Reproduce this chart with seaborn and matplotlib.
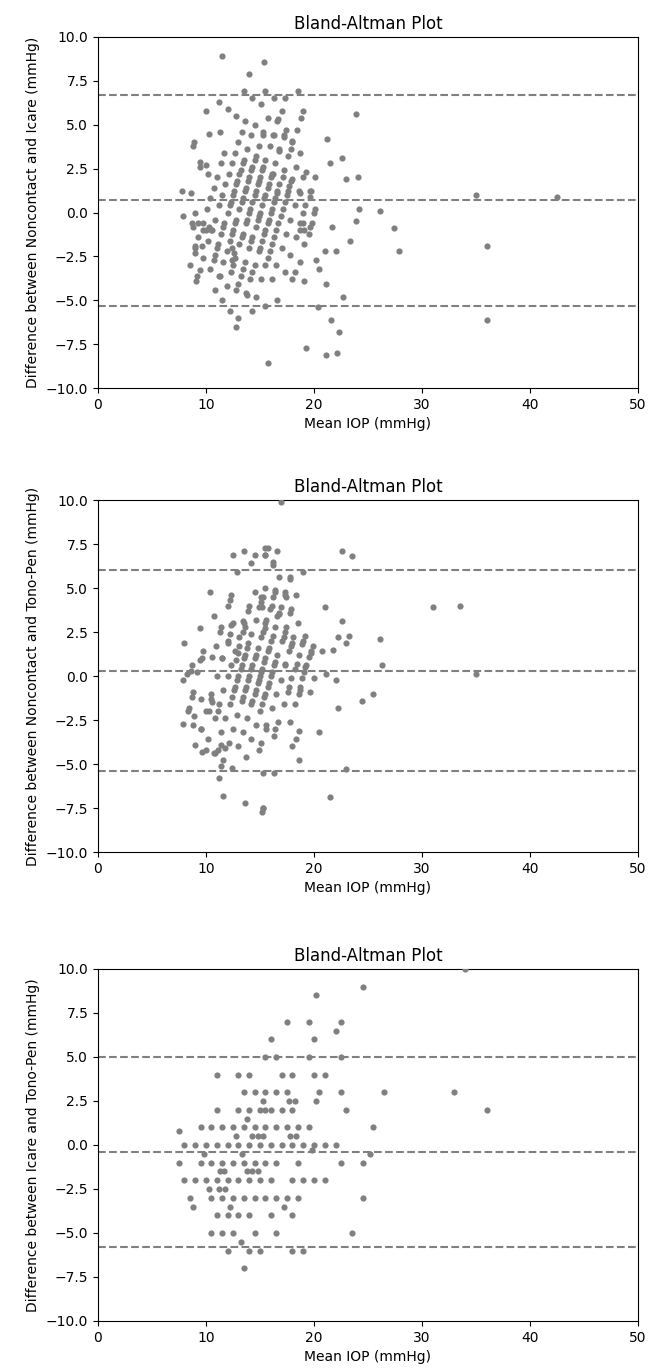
import matplotlib
matplotlib.use("Agg")
import matplotlib.pyplot as plt
import seaborn as sns
import numpy as np
import pandas as pd

# ---------------- Panel 1: Noncontact vs Icare ----------------
mean1 = [
    # observed, left part
    7.8, 8.6, 7.9, 9.0, 8.8, 8.9, 9.4, 9.4, 10.0, 10.2,
    8.7, 8.8, 9.3, 9.7, 10.0, 10.6, 10.3, 9.0, 9.0, 9.6,
    9.4, 9.1, 11.3, 10.7, 10.3, 11.3, 10.0, 11.2, 12.0, 12.8,
    11.5, 14.0, 15.4, 13.5, 14.3, 15.1, 15.5, 12.8, 15.7, 14.3,
    15.5, 13.8, 13.0, 12.4, 12.6, 12.4,
    # observed, right part
    16.3, 17.3, 18.5, 19.0, 18.8, 17.0, 16.7, 23.9, 17.4, 18.4,
    15.3, 16.3, 17.2, 18.0, 21.2, 16.8, 17.9, 21.5, 22.6, 19.3,
    20.1, 23.0, 24.1, 16.2, 17.1, 18.0, 18.7, 19.7, 19.6, 16.6,
    17.6, 17.7, 24.2, 26.1, 23.9, 21.7, 23.3, 19.0, 20.0, 19.0,
    19.8, 18.7, 19.1, 19.5, 21.0, 22.0, 20.2, 20.5, 21.1, 18.7,
    19.1, 18.0, 18.2, 22.7, 20.4, 21.6, 22.3, 19.3, 21.1, 22.1,
    16.6, 27.4, 27.9, 35.0, 36.0, 36.0, 42.5,
    # dense diagonal streaks
    8.5, 9.0, 9.3, 9.7, 10.1, 10.4, 10.7, 11.0, 11.4, 11.7,
    9.2, 9.7, 10.2, 10.5, 10.8, 11.2, 11.5, 11.8, 12.1, 12.4, 12.7, 13.0, 13.3, 13.6,
    10.4, 10.8, 11.1, 11.4, 11.7, 12.0, 12.3, 12.6, 12.9, 13.2, 13.5, 13.8, 14.2, 14.5,
    10.8, 11.2, 11.6, 11.9, 12.2, 12.5, 12.8, 13.1, 13.4, 13.7, 14.0, 14.3, 14.6, 14.9, 15.3, 15.7,
    11.5, 11.9, 12.3, 12.7, 13.1, 13.4, 13.7, 14.0, 14.3, 14.6, 14.9, 15.2, 15.5, 15.9, 16.2, 16.6,
    12.2, 12.8, 13.2, 13.6, 14.0, 14.3, 14.6, 14.9, 15.2, 15.5, 15.8, 16.1, 16.4, 16.8, 17.2,
    13.0, 13.7, 14.1, 14.5, 14.9, 15.2, 15.5, 15.8, 16.1, 16.4, 16.8, 17.2, 17.6, 18.0,
    14.6, 15.1, 15.5, 15.9, 16.3, 16.7, 17.1, 17.5, 17.9, 18.3, 18.7,
    16.1, 16.5, 17.0, 17.4, 17.8, 18.2, 18.6, 19.0,
    17.3, 17.8, 18.3, 18.7, 19.2, 19.6,
    19.1, 19.6, 20.1,
    # extra points filling the central streaks
    11.0, 11.6, 12.2, 12.5, 12.8, 13.1, 13.4,
    12.4, 12.7, 13.3, 13.6, 13.9, 14.2, 14.5,
    12.5, 13.3, 13.8, 14.1, 14.5, 14.8, 15.0, 15.3,
    13.4, 14.2, 14.8, 15.0, 15.4, 15.7, 16.0,
    14.3, 15.0, 15.4, 15.7, 16.0, 16.3, 16.6,
    15.7, 16.1, 16.5, 16.9, 17.3,
]
diff1 = [
    1.2, 1.1, -0.2, 0.0, 3.8, 4.0, 2.9, 2.6, 2.7, 2.2,
    -0.6, -0.8, -0.6, -1.0, -1.0, -1.0, -0.8, -1.9, -2.3, -1.9,
    -3.3, -3.9, -3.6, -2.7, 4.5, 4.6, 5.8, 6.3, 5.9, 5.5,
    8.9, 7.9, 8.6, 6.9, 6.5, 6.2, 6.9, -6.5, -8.6, -5.6,
    -5.3, -4.7, -4.1, -2.7, -2.3, -2.0,
    6.5, 6.5, 6.9, 5.8, 5.4, 5.8, 5.3, 5.6, 4.7, 4.7,
    4.4, 4.4, 4.3, 4.1, 4.2, 3.5, 3.6, 2.8, 3.1, 2.3,
    2.0, 1.9, 2.0, 2.2, 2.0, 1.9, 1.1, 1.2, 0.9, 1.1,
    1.2, 1.5, 0.2, 0.1, -0.5, -0.8, -1.6, 0.0, 0.0, -0.6,
    -0.6, -1.0, -1.0, -1.2, -2.2, -2.2, -2.7, -3.2, -4.1, -2.8,
    -3.9, -3.8, -3.4, -4.8, -5.4, -6.1, -6.8, -7.7, -8.1, -8.0,
    -5.0, -0.9, -2.2, 1.0, -1.9, -6.1, 0.9,
    -3.0, -2.0, -1.4, -0.6, 0.2, 0.8, 1.4, 2.0, 2.8, 3.4,
    -3.6, -2.6, -1.6, -1.0, -0.4, 0.4, 1.0, 1.6, 2.2, 2.8, 3.4, 4.0, 4.6, 5.2,
    -3.2, -2.4, -1.8, -1.2, -0.6, 0.0, 0.6, 1.2, 1.8, 2.4, 3.0, 3.6, 4.4, 5.0,
    -4.4, -3.6, -2.8, -2.2, -1.6, -1.0, -0.4, 0.2, 0.8, 1.4, 2.0, 2.6, 3.2, 3.8, 4.6, 5.4,
    -5.0, -4.2, -3.4, -2.6, -1.8, -1.2, -0.6, 0.0, 0.6, 1.2, 1.8, 2.4, 3.0, 3.8, 4.4, 5.2,
    -5.6, -4.4, -3.6, -2.8, -2.0, -1.4, -0.8, -0.2, 0.4, 1.0, 1.6, 2.2, 2.8, 3.6, 4.4,
    -6.0, -4.6, -3.8, -3.0, -2.2, -1.6, -1.0, -0.4, 0.2, 0.8, 1.6, 2.4, 3.2, 4.0,
    -4.8, -3.8, -3.0, -2.2, -1.4, -0.6, 0.2, 1.0, 1.8, 2.6, 3.4,
    -3.8, -3.0, -2.0, -1.2, -0.4, 0.4, 1.2, 2.0,
    -3.4, -2.4, -1.4, -0.6, 0.4, 1.2,
    -1.8, -0.8, 0.2,
    -2.0, -0.8, 0.4, 1.0, 1.6, 2.2, 2.8,
    -1.2, -0.6, 0.6, 1.2, 1.8, 2.4, 3.0,
    -3.0, -1.4, -0.4, 0.2, 1.0, 1.6, 2.0, 2.6,
    -3.2, -1.6, -0.4, 0.0, 0.8, 1.4, 2.0,
    -3.4, -2.0, -1.2, -0.6, 0.0, 0.6, 1.2,
    -2.6, -1.8, -1.0, -0.2, 0.6,
]
lines1 = [6.7, 0.7, -5.3]

# ---------------- Panel 2: Noncontact vs Tono-Pen ----------------
mean2 = [
    # observed, right part
    16.9, 15.5, 15.7, 16.6, 16.2, 16.2, 22.6, 23.5, 19.0, 16.8,
    17.8, 15.3, 16.2, 16.4, 17.3, 17.4, 16.1, 16.9, 17.9, 15.2,
    21.0, 22.6, 22.2, 23.2, 23.0, 26.1, 15.6, 16.6, 16.8, 15.5,
    15.3, 16.2, 17.2, 17.3, 18.0, 17.9, 19.2, 18.9, 19.9, 19.7,
    19.5, 20.7, 21.8, 26.3, 17.3, 18.4, 19.2, 19.1, 18.9, 20.0,
    21.1, 22.0, 17.9, 18.7, 18.6, 19.6, 17.6, 22.2, 24.4, 25.5,
    20.5, 17.8, 18.6, 18.3, 18.0, 18.6, 15.6, 16.4, 16.3, 14.9,
    23.0, 21.5, 15.3, 16.3, 15.3, 15.2, 31.0, 33.5, 35.0,
    # observed, left part
    12.5, 13.5, 14.5, 15.5, 15.5, 14.2, 12.9, 10.4, 12.3, 12.0,
    12.2, 14.5, 15.1, 10.7, 9.4, 11.4, 12.3, 11.3, 12.2, 13.4,
    13.6, 13.4, 13.9, 14.9, 8.0, 9.7, 9.6, 10.9, 10.6, 11.5,
    12.0, 13.1, 13.9, 13.0, 12.8, 9.4, 8.7, 9.2, 8.2, 8.6,
    7.9, 8.8, 8.7, 8.4, 8.3, 8.9, 7.9, 8.8, 9.5, 9.0,
    9.6, 10.0, 10.7, 11.1, 11.4, 11.8, 9.5, 10.5, 10.6, 10.3,
    11.1, 11.4, 11.2, 11.6, 13.6, 15.3,
    # dense diagonal streaks
    9.5, 10.0, 10.5, 11.0, 11.5, 12.0, 12.5,
    10.2, 10.8, 11.2, 11.6, 12.0, 12.3, 12.7, 13.1, 13.5, 14.0,
    10.8, 11.4, 11.8, 12.2, 12.6, 12.9, 13.2, 13.5, 13.8, 14.2, 14.6, 15.1, 15.5,
    11.6, 12.1, 12.5, 12.9, 13.3, 13.6, 13.9, 14.2, 14.5, 14.8, 15.1, 15.5, 15.9, 16.4,
    12.4, 13.0, 13.4, 13.8, 14.2, 14.5, 14.8, 15.1, 15.4, 15.7, 16.0, 16.4, 16.8, 17.3, 17.8,
    13.7, 14.2, 14.6, 15.0, 15.4, 15.7, 16.0, 16.3, 16.6, 17.0, 17.4, 17.8, 18.3,
    15.1, 15.6, 16.1, 16.5, 16.9, 17.3, 17.7, 18.1, 18.5,
    16.7, 17.2, 17.7, 18.2, 18.6, 19.0,
    18.2, 18.7, 19.3, 19.7,
    # extra points in the dense central cluster
    13.4, 13.7, 14.0, 14.3, 14.6,
    14.3, 14.6, 14.9, 15.0, 15.2, 15.5, 15.8,
    15.2, 15.5, 15.8, 16.1, 16.4,
    12.4, 12.7, 13.0, 13.3, 13.6,
]
diff2 = [
    9.9, 6.9, 7.3, 7.1, 6.5, 6.3, 7.1, 6.8, 5.9, 5.6,
    5.5, 4.5, 4.5, 4.9, 4.8, 4.5, 4.0, 3.9, 3.8, 3.9,
    3.9, 3.1, 2.2, 2.3, 1.9, 2.1, 3.2, 3.4, 3.5, 2.7,
    2.5, 2.3, 2.2, 2.5, 1.9, 1.7, 2.3, 1.8, 1.7, 1.3,
    1.1, 1.4, 1.5, 0.6, 0.7, 0.7, 0.5, 0.2, -0.1, -0.1,
    0.1, -0.2, -0.1, -0.8, -1.0, -0.9, -0.9, -1.8, -1.4, -1.0,
    -3.2, -2.6, -3.1, -3.6, -4.0, -4.8, -3.0, -3.0, -3.4, -4.2,
    -5.3, -6.9, -5.5, -5.5, -7.5, -7.7, 3.9, 4.0, 0.1,
    6.9, 7.1, 6.9, 7.3, 6.9, 6.4, 5.9, 4.8, 4.6, 4.0,
    4.3, 4.8, 4.5, 3.4, 2.7, 2.8, 2.9, 2.5, 2.4, 3.1,
    2.8, 2.5, 3.7, 3.9, 1.9, 1.4, 1.0, 1.7, 1.1, 1.0,
    1.9, 1.7, 1.9, 1.3, 0.9, 0.9, 0.6, 0.2, 0.1, 0.3,
    -0.2, -0.9, -1.2, -1.8, -2.0, -2.3, -2.7, -2.8, -3.0, -3.9,
    -4.3, -4.2, -4.4, -4.2, -3.9, -4.1, -1.3, -1.3, -1.5, -2.0,
    -2.0, -5.1, -5.8, -6.8, -7.2, -7.5,
    -3.0, -2.0, -1.0, 0.0, 1.0, 2.0, 3.0,
    -3.6, -2.4, -1.6, -0.8, 0.0, 0.6, 1.4, 2.2, 3.0, 4.0,
    -4.4, -3.2, -2.4, -1.6, -0.8, -0.2, 0.4, 1.0, 1.6, 2.4, 3.2, 4.2, 5.0,
    -4.8, -3.8, -3.0, -2.2, -1.4, -0.8, -0.2, 0.4, 1.0, 1.6, 2.2, 3.0, 3.8, 4.8,
    -5.2, -4.0, -3.2, -2.4, -1.6, -1.0, -0.4, 0.2, 0.8, 1.4, 2.0, 2.8, 3.6, 4.6, 5.6,
    -4.6, -3.6, -2.8, -2.0, -1.2, -0.6, 0.0, 0.6, 1.2, 2.0, 2.8, 3.6, 4.6,
    -3.8, -2.8, -1.8, -1.0, -0.2, 0.6, 1.4, 2.2, 3.0,
    -2.6, -1.6, -0.6, 0.4, 1.2, 2.0,
    -1.6, -0.6, 0.6, 1.4,
    -1.2, -0.6, 0.0, 0.6, 1.2,
    -1.4, -0.8, -0.2, 0.0, 0.4, 1.0, 1.6,
    -1.6, -1.0, -0.4, 0.2, 0.8,
    -1.2, -0.6, 0.0, 0.6, 1.2,
]
lines2 = [6.0, 0.3, -5.4]

# ---------------- Panel 3: Icare vs Tono-Pen ----------------
mean3 = [
    34.0, 24.5, 20.2,
    17.5, 19.5, 22.5, 22.0, 16.0, 20.0,
    15.5, 16.5, 19.5, 22.5,
    11.0, 13.0, 14.0, 17.0, 18.0, 20.0, 21.0,
    13.5, 14.5, 15.5, 16.5, 17.5, 20.5, 22.5, 26.5, 33.0,
    15.3, 17.7, 18.2, 20.2,
    11.0, 13.0, 14.0, 15.0, 15.5, 16.0, 17.0, 18.0, 23.0, 36.0,
    13.8,
    9.5, 10.5, 11.5, 12.5, 13.5, 14.5, 15.5, 16.5, 17.5, 18.5, 19.5, 25.5,
    7.5,
    12.8, 14.3, 14.8, 15.3, 17.8, 18.3,
    8.0, 9.0, 10.0, 11.0, 12.0, 13.0, 14.0, 15.0, 16.0, 17.0, 18.0, 19.0, 20.0, 21.0, 22.0,
    19.8,
    9.8, 13.3, 25.2,
    7.5, 9.5, 10.5, 11.5, 12.5, 13.5, 14.5, 15.5, 16.5, 18.5, 22.5, 24.5,
    11.3, 11.7, 13.8, 14.3, 14.8,
    8.0, 9.0, 10.0, 11.0, 12.0, 13.0, 14.0, 15.0, 16.0, 18.0, 19.0, 20.0, 21.0,
    10.3, 11.2, 11.8,
    8.5, 10.5, 11.5, 12.5, 13.5, 14.5, 15.5, 16.5, 17.5, 18.5, 24.5,
    8.8, 12.2, 17.2,
    11.0, 12.0, 13.0, 14.0, 16.0, 18.0,
    10.5, 11.5, 12.5, 14.5, 16.5, 23.5,
    13.2,
    12.0, 14.0, 15.0, 18.0, 19.0,
    13.5,
]
diff3 = [
    10.0, 9.0, 8.5,
    7.0, 7.0, 7.0, 6.5, 6.0, 6.0,
    5.0, 5.0, 5.0, 5.0,
    4.0, 4.0, 4.0, 4.0, 4.0, 4.0, 4.0,
    3.0, 3.0, 3.0, 3.0, 3.0, 3.0, 3.0, 3.0, 3.0,
    2.5, 2.5, 2.5, 2.5,
    2.0, 2.0, 2.0, 2.0, 2.0, 2.0, 2.0, 2.0, 2.0, 2.0,
    1.5,
    1.0, 1.0, 1.0, 1.0, 1.0, 1.0, 1.0, 1.0, 1.0, 1.0, 1.0, 1.0,
    0.8,
    0.5, 0.5, 0.5, 0.5, 0.5, 0.5,
    0.0, 0.0, 0.0, 0.0, 0.0, 0.0, 0.0, 0.0, 0.0, 0.0, 0.0, 0.0, 0.0, 0.0, 0.0,
    -0.3,
    -0.5, -0.5, -0.5,
    -1.0, -1.0, -1.0, -1.0, -1.0, -1.0, -1.0, -1.0, -1.0, -1.0, -1.0, -1.0,
    -1.5, -1.5, -1.5, -1.5, -1.5,
    -2.0, -2.0, -2.0, -2.0, -2.0, -2.0, -2.0, -2.0, -2.0, -2.0, -2.0, -2.0, -2.0,
    -2.5, -2.5, -2.5,
    -3.0, -3.0, -3.0, -3.0, -3.0, -3.0, -3.0, -3.0, -3.0, -3.0, -3.0,
    -3.5, -3.5, -3.5,
    -4.0, -4.0, -4.0, -4.0, -4.0, -4.0,
    -5.0, -5.0, -5.0, -5.0, -5.0, -5.0,
    -5.5,
    -6.0, -6.0, -6.0, -6.0, -6.0,
    -7.0,
]
lines3 = [5.0, -0.4, -5.8]

ylabels = [
    "Difference between Noncontact and Icare (mmHg)",
    "Difference between Noncontact and Tono-Pen (mmHg)",
    "Difference between Icare and Tono-Pen (mmHg)",
]
title = "Bland-Altman Plot"
xlabel = "Mean IOP (mmHg)"
xticks = [0, 10, 20, 30, 40, 50]
yticks = [-10.0, -7.5, -5.0, -2.5, 0.0, 2.5, 5.0, 7.5, 10.0]

panels = [(mean1, diff1, lines1), (mean2, diff2, lines2), (mean3, diff3, lines3)]
for m, d, _ in panels:
    assert len(m) == len(d), (len(m), len(d))

fig = plt.figure(figsize=(6.54, 13.72), dpi=100)
W, H = 654.0, 1372.0
left_px, right_px = 98, 638
boxes = [(37, 388), (500, 852), (969, 1321)]

for i, ((m, d, lines), (top, bot)) in enumerate(zip(panels, boxes)):
    ax = fig.add_axes([left_px / W, 1 - bot / H, (right_px - left_px) / W, (bot - top) / H])
    df = pd.DataFrame({"mean": m, "diff": d})
    sns.scatterplot(data=df, x="mean", y="diff", ax=ax, color="gray",
                    s=20, linewidth=0, legend=False, zorder=3)
    for v in lines:
        ax.axhline(v, color="gray", linestyle="--", linewidth=1.5, zorder=2)
    ax.set_xlim(0, 50)
    ax.set_ylim(-10, 10)
    ax.set_xticks(xticks)
    ax.set_yticks(yticks)
    ax.set_title(title, fontsize=12)
    ax.set_xlabel(xlabel, fontsize=10)
    ax.set_ylabel(ylabels[i], fontsize=10)
    ax.tick_params(labelsize=10)

fig.savefig("out.png", dpi=100)
